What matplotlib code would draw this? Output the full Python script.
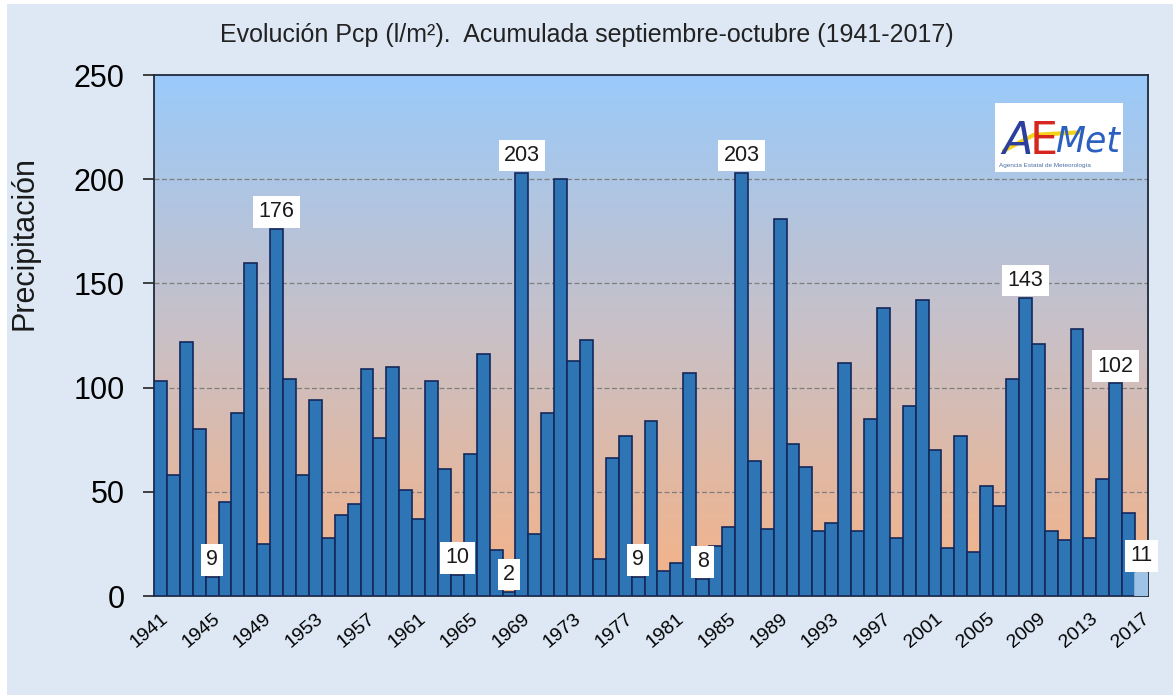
import matplotlib
matplotlib.use("Agg")
import matplotlib.pyplot as plt
import numpy as np
from matplotlib.colors import LinearSegmentedColormap
from matplotlib.patches import Rectangle

# Data (l/m2, Sept-Oct accumulated)
years = list(range(1941, 2018))
pcp = [103, 58, 122, 80, 9, 45, 88, 160, 25, 176,
       104, 58, 94, 28, 39, 44, 109, 76, 110, 51,
       37, 103, 61, 10, 68, 116, 22, 2, 203, 30,
       88, 200, 113, 123, 18, 66, 77, 9, 84, 12,
       16, 107, 8, 24, 33, 203, 65, 32, 181, 73,
       62, 31, 35, 112, 31, 85, 138, 28, 91, 142,
       70, 23, 77, 21, 53, 43, 104, 143, 121, 31,
       27, 128, 28, 56, 102, 40, 11]
label_years = [1945, 1950, 1964, 1968, 1969, 1978, 1983, 1986, 2008, 2015, 2017]
tick_years = list(range(1941, 2018, 4))
y_ticks = [0, 50, 100, 150, 200, 250]

fig = plt.figure(figsize=(11.73, 6.95), dpi=100, facecolor="white")
fig.patches.append(Rectangle((7 / 1173, 0), 1, 1 - 4 / 695, transform=fig.transFigure,
                             facecolor="#dde8f4", edgecolor="none", zorder=-10))

ax = fig.add_axes([0.1313, 0.1424, 0.8474, 0.7496])
ax.set_xlim(1940.5, 2017.5)
ax.set_ylim(0, 250)

# gradient plot background
cmap = LinearSegmentedColormap.from_list("bg", ["#f6b285", "#c9c0c6", "#9acafa"])
grad = np.linspace(0, 1, 256).reshape(-1, 1)
ax.imshow(grad, extent=[1940.5, 2017.5, 0, 250], aspect="auto", cmap=cmap,
          origin="lower", zorder=0)

colors = ["#2e75b6"] * (len(years) - 1) + ["#9dc3e6"]
edges = ["#14285a"] * (len(years) - 1) + ["#9dc3e6"]
ax.bar(years, pcp, width=1.0, color=colors, edgecolor=edges, linewidth=1.2, zorder=3)

for y in y_ticks[1:-1]:
    ax.axhline(y, color="#7f7f7f", linestyle=(0, (4, 2)), linewidth=0.9, zorder=1)

for yr in label_years:
    v = pcp[years.index(yr)]
    ax.annotate(str(v), (yr, v), xytext=(0, 5), textcoords="offset points",
                ha="center", va="bottom", fontsize=15.5, family="Liberation Sans",
                color="#1a1a1a", zorder=5, annotation_clip=False,
                bbox=dict(boxstyle="square,pad=0.25", fc="white", ec="none"))

ax.set_yticks(y_ticks)
ax.set_yticklabels([str(t) for t in y_ticks], fontsize=22, family="Liberation Sans")
ax.tick_params(axis="y", length=8, width=1.2, color="#222222", direction="out", pad=13)
ax.set_xticks(tick_years)
ax.set_xticklabels([str(t) for t in tick_years], rotation=40, ha="right", va="top",
                   rotation_mode="anchor", fontsize=14, family="Liberation Sans")
ax.tick_params(axis="x", length=0, pad=10)
for s in ax.spines.values():
    s.set_color("#1f2a3a")
    s.set_linewidth(1.3)

fig.text(25 / 1173, 1 - 243 / 695, "Precipitación", rotation=90, ha="center", va="center",
         fontsize=22, family="Liberation Sans", color="#1a1a1a")

fig.text(0.5, 1 - 35 / 695, "Evolución Pcp (l/m²).  Acumulada septiembre-octubre (1941-2017)",
         ha="center", va="center", fontsize=18, family="Liberation Sans", color="#222222")

# AEMet logo box
ax.add_patch(Rectangle((0.846, 0.814), 0.129, 0.132, transform=ax.transAxes,
                       facecolor="white", edgecolor="none", zorder=6))
ax.plot([0.855, 0.885, 0.93], [0.855, 0.885, 0.89], color="#f2d21b", linewidth=3,
        transform=ax.transAxes, zorder=7, solid_capstyle="round")
ax.text(0.853, 0.872, "A", color="#2b3f9e", fontsize=32, transform=ax.transAxes,
        zorder=8, va="center", family="DejaVu Sans", fontstyle="italic")
ax.text(0.881, 0.872, "E", color="#d7261e", fontsize=32, transform=ax.transAxes,
        zorder=8, va="center", family="DejaVu Sans")
ax.text(0.906, 0.872, "Met", color="#2b5fc0", fontsize=25, transform=ax.transAxes,
        zorder=8, va="center", family="DejaVu Sans", fontstyle="italic")
ax.text(0.8505, 0.826, "Agencia Estatal de Meteorología", color="#4b6ea8", fontsize=4.6,
        transform=ax.transAxes, zorder=8, va="center", family="Liberation Sans")

fig.savefig("out.png", dpi=100, facecolor=fig.get_facecolor())
